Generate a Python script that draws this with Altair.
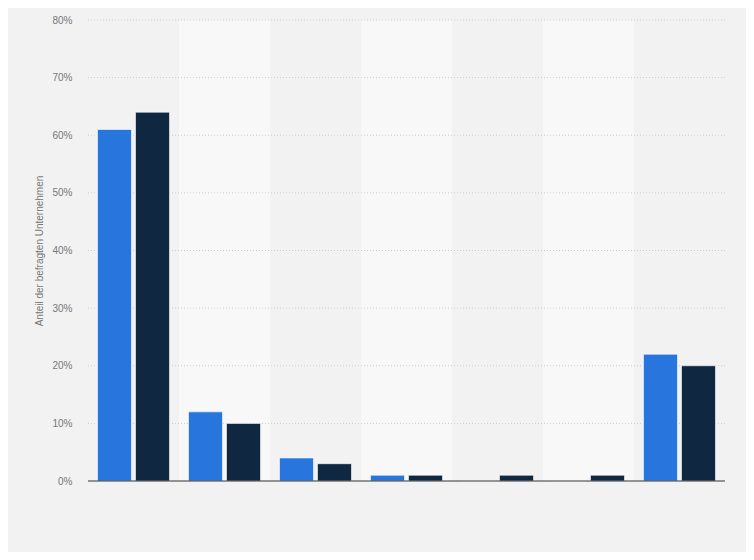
import altair as alt
import pandas as pd

categories = ["A", "B", "C", "D", "E", "F", "G"]
series = ["Serie 1", "Serie 2"]
values_1 = [61, 12, 4, 1, 0, 0, 22]
values_2 = [64, 10, 3, 1, 1, 1, 20]
colors = ["#2876dd", "#0f2741"]
y_ticks = [0, 10, 20, 30, 40, 50, 60, 70, 80]

rows = []
for c, v1, v2 in zip(categories, values_1, values_2):
    rows.append({"cat": c, "series": series[0], "value": v1})
    rows.append({"cat": c, "series": series[1], "value": v2})
df = pd.DataFrame(rows)
bands = pd.DataFrame({"cat": categories, "shade": ["a" if i % 2 == 0 else "b" for i in range(len(categories))]})
grid = pd.DataFrame({"value": [t for t in y_ticks if t > 0]})
base = pd.DataFrame({"value": [0]})

W, H = 637, 461
FONT = "Liberation Sans"
xscale = alt.Scale(domain=categories, paddingInner=0, paddingOuter=0)
yscale = alt.Scale(domain=[0, 80], nice=False)
yaxis = alt.Axis(values=y_ticks, labelExpr="datum.value + '%'", title="Anteil der befragten Unternehmen",
                 titleColor="#777777", titleFontSize=10, titleFontWeight="normal", titleFont=FONT,
                 titlePadding=7, labelColor="#777777", labelFontSize=10, labelFont=FONT,
                 labelPadding=16, domain=False, ticks=False, grid=False)


def yenc():
    return alt.Y("value:Q", scale=yscale, axis=yaxis)


band_layer = alt.Chart(bands).mark_rect().encode(
    x=alt.X("cat:N", scale=xscale, sort=categories, axis=None),
    y=alt.value(0),
    y2=alt.value(H),
    color=alt.Color("shade:N", scale=alt.Scale(domain=["a", "b"], range=["#f2f2f2", "#f8f8f8"]), legend=None),
)

grid_layer = alt.Chart(grid).mark_rule(color="#cccccc", strokeDash=[1, 2], strokeWidth=1).encode(
    y=yenc(),
    x=alt.value(0),
    x2=alt.value(W),
)

bars = alt.Chart(df).mark_bar(stroke="#ffffff", strokeOpacity=0.6, strokeWidth=1).encode(
    x=alt.X("cat:N", scale=xscale, sort=categories, axis=None),
    xOffset=alt.XOffset("series:N", sort=series, scale=alt.Scale(paddingInner=0.105, paddingOuter=0.25)),
    y=yenc(),
    color=alt.Color("series:N", scale=alt.Scale(domain=series, range=colors), legend=None),
)

base_layer = alt.Chart(base).mark_rule(color="#333333", strokeWidth=1.2).encode(
    y=yenc(),
    x=alt.value(0),
    x2=alt.value(W),
)

chart = alt.layer(band_layer, grid_layer, bars, base_layer).resolve_scale(color="independent").properties(
    width=W, height=H,
    autosize=alt.AutoSizeParams(type="none"),
    padding={"left": 80, "top": 12, "right": 21, "bottom": 71},
    background="#f2f2f2",
).configure_view(stroke=None)

chart.save("out.html", embed_options={"renderer": "svg", "actions": False})
